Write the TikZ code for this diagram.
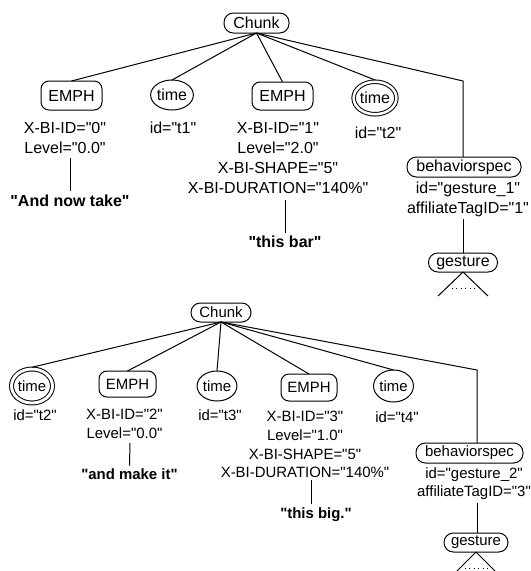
\documentclass[tikz,border=0pt]{standalone}
\usepackage{fontspec}
\setmainfont{Liberation Sans}[Ligatures=TeXOff]
\usetikzlibrary{shapes.geometric}
\begin{document}
\begin{tikzpicture}[x=0.75pt,y=-0.75pt,line width=0.75pt,
  every node/.style={inner sep=0pt,outer sep=0pt},
  ft/.style={font=\fontsize{12}{15}\selectfont},
  fb/.style={font=\fontsize{11.2}{14}\selectfont},
  pill/.style={draw,rounded corners=7pt},
  emph/.style={draw,rounded corners=6pt},
  tm/.style={draw,ellipse},
  dtm/.style={draw,ellipse,double,double distance=1.9pt,outer sep=1.3pt},
  attr/.style={align=center,anchor=north},
  word/.style={anchor=base,outer sep=2.4pt},
  wt/.style={word,font=\fontsize{12}{15}\selectfont\bfseries},
  wb/.style={word,font=\fontsize{11.2}{14}\selectfont\bfseries},
  dots/.style={dash pattern=on 0.75pt off 2.6pt}]
\useasboundingbox (0,0) rectangle (531,571);

% ---------------- top tree ----------------
\begin{scope}[ft]
\node[pill,minimum width=48.75pt,minimum height=15pt] (ch1) at (256.5,23) {Chunk};
\node[emph,minimum width=45.75pt,minimum height=21.75pt] (e1) at (71.5,95.5) {EMPH};
\node[tm,minimum width=30pt,minimum height=22.5pt] (t1) at (172,95) {time};
\node[emph,minimum width=45.75pt,minimum height=21pt] (e2) at (282.5,96) {EMPH};
\node[dtm,minimum width=30.4pt,minimum height=24.4pt] (t2) at (375,98) {time};
\node[pill,minimum width=85.5pt,minimum height=15pt] (bs1) at (464,167) {behaviorspec};
\node[pill,minimum width=51.75pt,minimum height=14.25pt] (g1) at (463,262.5) {gesture};

\node[attr] (l1) at (65,122) {X-BI-ID="0"\\Level="0.0"};
\node[attr] (lt1) at (173,122) {id="t1"};
\node[attr] (l2) at (278,122) {X-BI-ID="1"\\Level="2.0"\\X-BI-SHAPE="5"\\X-BI-DURATION="140\%"};
\node[attr] (lt2) at (378,127) {id="t2"};
\node[attr] (lbs1) at (468,182) {id="gesture\_1"\\affiliateTagID="1"};

\node[wt] (w1) at (70,206) {"And now take"};
\node[wt] (w2) at (285,247.5) {"this bar"};

\coordinate (c1) at (463,81);
\coordinate (a1) at (70,158);
\coordinate (a2) at (285,200);
\coordinate (b1) at (463,219);

\draw (ch1.south) -- (e1.north);
\draw (ch1.south) -- (t1.north);
\draw (ch1.south) -- (e2.north);
\draw (ch1.south) -- (t2.north);
\draw (ch1.south) -- (c1) -- (c1 |- bs1.north);
\draw (a1) -- (w1.north);
\draw (a2) -- (w2.north);
\draw (b1) -- (g1.north);
\draw (g1.south) -- ++(-25,24);
\draw (g1.south) -- ++(25,24);
\draw[dots] (452,288) -- (476,288);
\end{scope}

% ---------------- bottom tree ----------------
\begin{scope}[fb]
\node[pill,minimum width=45pt,minimum height=14.25pt] (ch2) at (221,312.5) {Chunk};
\node[dtm,double distance=2.2pt,minimum width=30.75pt,minimum height=25.5pt] (t2b) at (32,386) {time};
\node[emph,minimum width=42.75pt,minimum height=19.5pt] (e3) at (127.5,384) {EMPH};
\node[tm,minimum width=28.5pt,minimum height=22.5pt] (t3) at (217,386) {time};
\node[emph,minimum width=42pt,minimum height=20.25pt] (e4) at (309,387.5) {EMPH};
\node[tm,minimum width=27.75pt,minimum height=24pt] (t4) at (393.5,386) {time};
\node[pill,minimum width=80.25pt,minimum height=15pt] (bs2) at (469.5,453) {behaviorspec};
\node[pill,minimum width=48pt,minimum height=14.25pt] (g2) at (476,542.5) {gesture};

\node[attr] (lt2b) at (35,409.5) {id="t2"};
\node[attr] (l3) at (124.5,409.5) {X-BI-ID="2"\\Level="0.0"};
\node[attr] (lt3) at (220,409.5) {id="t3"};
\node[attr] (l4) at (305,411.5) {X-BI-ID="3"\\Level="1.0"\\X-BI-SHAPE="5"\\X-BI-DURATION="140\%"};
\node[attr] (lt4) at (397,411.5) {id="t4"};
\node[attr] (lbs2) at (474,467.5) {id="gesture\_2"\\affiliateTagID="3"};

\node[wb] (w3) at (129.5,479.7) {"and make it"};
\node[wb] (w4) at (316,518.5) {"this big."};

\coordinate (c2) at (477,370);
\coordinate (a3) at (130,443);
\coordinate (a4) at (311,480);
\coordinate (b2) at (477,503);

\draw (ch2.south) -- (t2b.north);
\draw (ch2.south) -- (e3.north);
\draw (ch2.south) -- (t3.north);
\draw (ch2.south) -- (e4.north);
\draw (ch2.south) -- (t4.north);
\draw (ch2.south) -- (c2) -- (c2 |- bs2.north);
\draw (a3) -- (w3.north);
\draw (a4) -- (a4 |- w4.north);
\draw (b2) -- (b2 |- g2.north);
\draw (g2.south) -- ++(-24,24);
\draw (g2.south) -- ++(24,24);
\draw[dots] (465,568) -- (489,568);
\end{scope}
\end{tikzpicture}
\end{document}
